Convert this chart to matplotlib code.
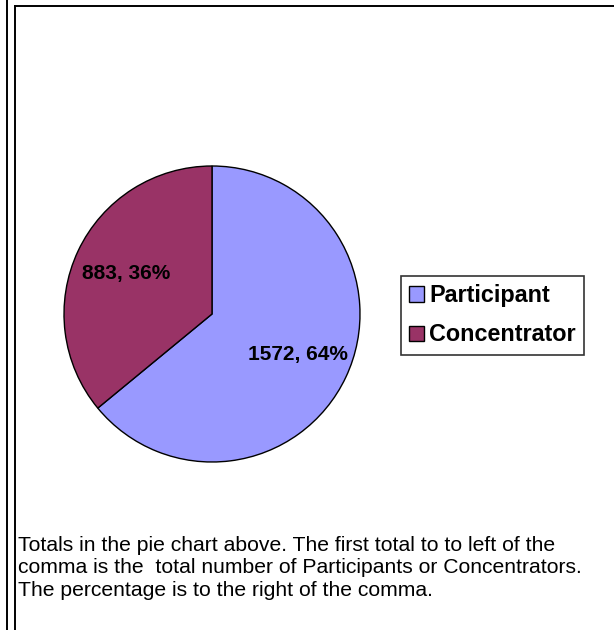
import matplotlib
matplotlib.use("Agg")
import matplotlib.pyplot as plt
from matplotlib.lines import Line2D
from matplotlib.patches import Patch
import numpy as np

# ---------------------------------------------------------------------------
# Data
# ---------------------------------------------------------------------------
categories = ["Participant", "Concentrator"]
counts     = [1572, 883]
percents   = [64, 36]
colors     = ["#9999FF", "#993366"]
caption = ("Totals in the pie chart above. The first total to to left of the\n"
           "comma is the  total number of Participants or Concentrators.\n"
           "The percentage is to the right of the comma.")

W, H = 614, 630
plt.rcParams["font.family"] = ["Liberation Sans", "DejaVu Sans"]

fig = plt.figure(figsize=(W / 100, H / 100), dpi=100)

# page borders (pixel coords -> figure fraction)
def px(x, y):
    return x / W, 1 - y / H

for (x0, y0), (x1, y1) in [((7, 0), (7, H)), ((15, 6), (15, H)), ((15, 6), (W, 6))]:
    a, b = px(x0, y0)
    c, d = px(x1, y1)
    fig.add_artist(Line2D([a, c], [b, d], color="black", lw=1.4,
                          transform=fig.transFigure))

# pie: centre (212, 314), radius 148 px
cx, cy, r = 212, 314, 148
ax = fig.add_axes([(cx - r) / W, 1 - (cy + r) / H, 2 * r / W, 2 * r / H])
wedges, _ = ax.pie(counts, colors=colors, startangle=90, counterclock=False,
                   wedgeprops=dict(edgecolor="black", linewidth=1.0))
ax.set_xlim(-1, 1)
ax.set_ylim(-1, 1)
ax.set_aspect("auto")
ax.axis("off")

for w, n, p in zip(wedges, counts, percents):
    mid = np.deg2rad((w.theta1 + w.theta2) / 2)
    ax.text(0.64 * np.cos(mid), 0.64 * np.sin(mid), f"{n}, {p}%",
            ha="center", va="center", fontsize=15, fontweight="bold")

handles = [Patch(facecolor=c, edgecolor="black", linewidth=1.0) for c in colors]
bx, by = px(401, 276)
leg = fig.legend(handles, categories, loc="upper left", bbox_to_anchor=(bx, by),
                 frameon=True, fancybox=False, borderpad=0.35,
                 handlelength=0.65, handleheight=0.65, handletextpad=0.2,
                 labelspacing=0.7, borderaxespad=0,
                 prop=dict(size=16.8, weight="bold"))
leg.get_frame().set_edgecolor("black")
leg.get_frame().set_linewidth(1.2)

tx, ty = px(18, 536)
fig.text(tx, ty, caption, ha="left", va="top", fontsize=15.2,
         linespacing=1.22)

fig.savefig("out.png", dpi=100)
